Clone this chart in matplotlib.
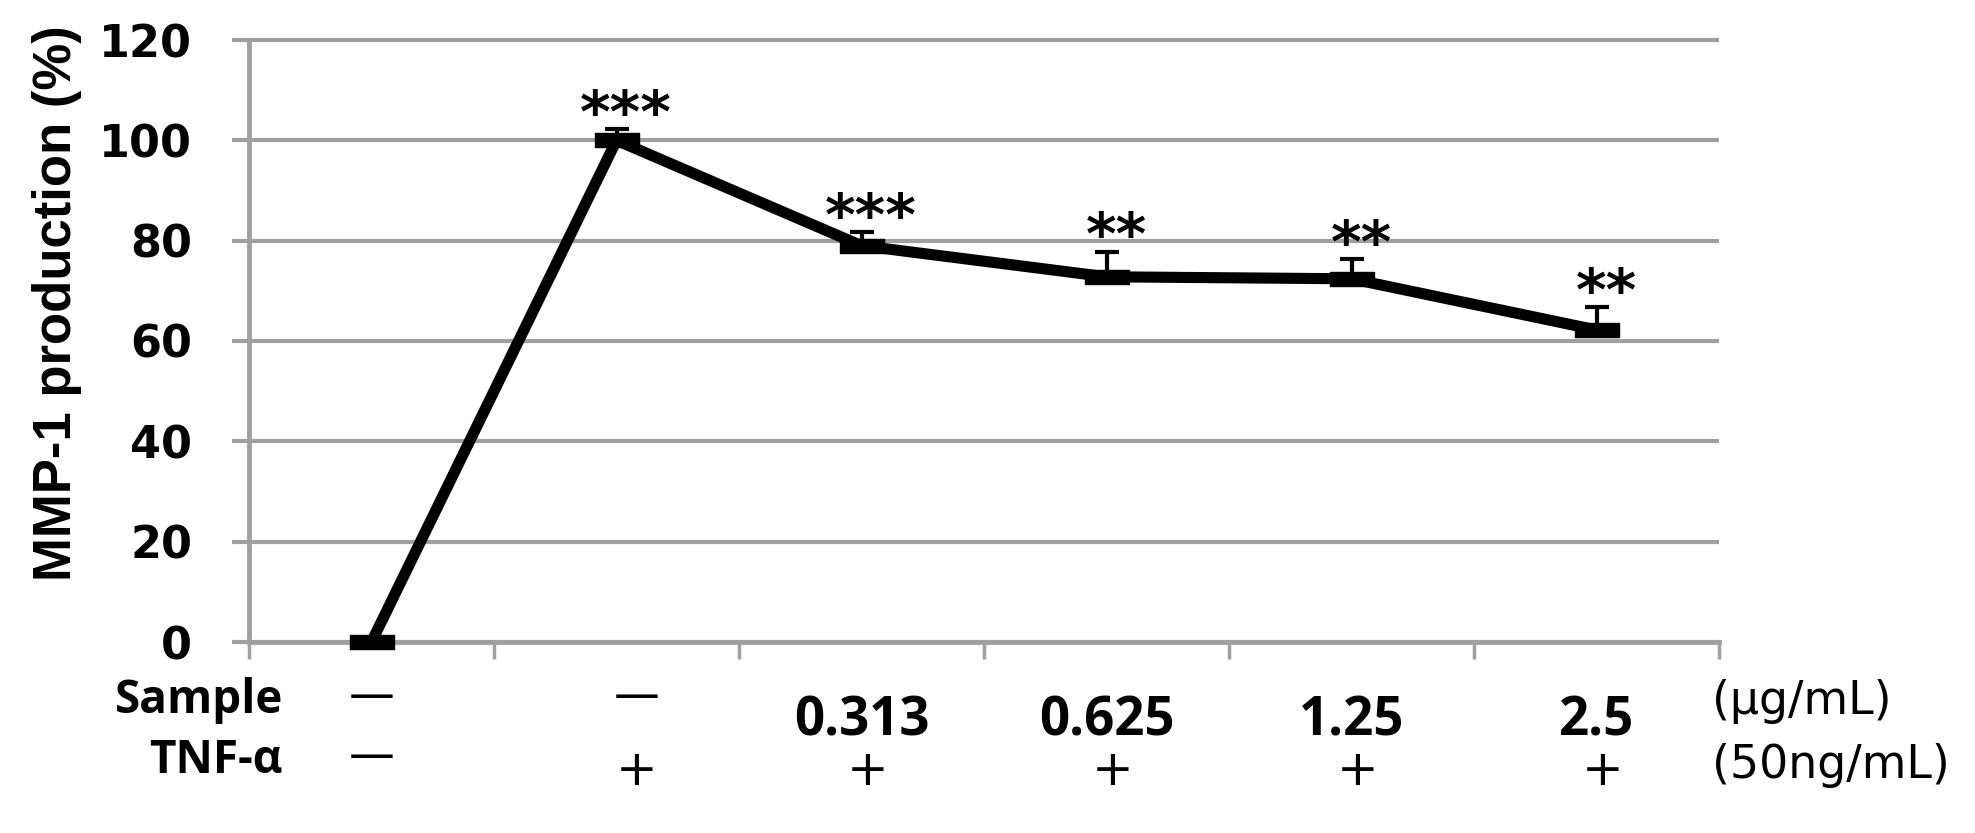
import numpy as np
import matplotlib
matplotlib.use("Agg")
import matplotlib.pyplot as plt
from matplotlib.path import Path
from matplotlib.transforms import blended_transform_factory

# ---------------- data ----------------
groups = ["Control", "TNF-α", "0.313", "0.625", "1.25", "2.5"]
sample_labels = ["—", "—", "0.313", "0.625", "1.25", "2.5"]
tnf_labels = ["—", "+", "+", "+", "+", "+"]
values = [0.0, 100.0, 79.0, 72.8, 72.4, 62.2]
errors = [0.0, 2.3, 2.7, 5.0, 3.9, 4.6]
sig_marks = ["", "***", "***", "**", "**", "**"]
y_ticks = [0, 20, 40, 60, 80, 100, 120]
y_label = "MMP-1 production (%)"
row_titles = ["Sample", "TNF-α"]
unit_labels = ["(μg/mL)", "(50ng/mL)"]

# ---------------- figure ----------------
W, H = 1975, 833
DPI = 100
fig = plt.figure(figsize=(W / DPI, H / DPI), dpi=DPI)
fig.patch.set_facecolor("white")

def fx(px):
    return px / W

def fy(py):
    return 1 - py / H

ax_left, ax_right = 249, 1719
y0_px, y120_px = 642, 40
px_per_unit = (y0_px - y120_px) / 120.0
ytop = 121
ax = fig.add_axes([fx(ax_left), (H - y0_px) / H, (ax_right - ax_left) / W,
                   px_per_unit * ytop / H])

GRAY = "#a0a0a0"
x = np.arange(1, len(values) + 1)

# error bars (upper only)
ax.errorbar(x, values, yerr=[np.zeros(len(errors)), errors], fmt="none",
            ecolor="black", elinewidth=3.0, capsize=8.6, capthick=3.0,
            clip_on=False, zorder=3)

# rectangular (dash-like) markers
rect = Path([(-1, -0.32), (1, -0.32), (1, 0.32), (-1, 0.32), (-1, -0.32)],
            [Path.MOVETO, Path.LINETO, Path.LINETO, Path.LINETO, Path.CLOSEPOLY])
ax.plot(x, values, color="black", lw=8, marker=rect, ms=32,
        mfc="black", mec="black", clip_on=False, zorder=4)

# significance marks
for xi, v, e, s in zip(x, values, errors, sig_marks):
    if s:
        ax.annotate(s, xy=(xi, v + e), xytext=(7, -2), textcoords="offset points",
                    ha="center", va="baseline", fontsize=42, fontweight="bold",
                    family="DejaVu Sans", color="black", zorder=5)

# axes styling
ax.set_xlim(0.5, len(values) + 0.5)
ax.set_ylim(0, ytop)
ax.set_yticks(y_ticks)
ax.set_yticklabels([str(t) for t in y_ticks], fontsize=32, fontweight="bold",
                   family="DejaVu Sans")
ax.set_xticks(np.arange(0.5, len(values) + 1, 1.0))
ax.set_xticklabels([])
ax.yaxis.grid(True, color=GRAY, lw=3)
ax.set_axisbelow(True)
for sp in ["top", "right"]:
    ax.spines[sp].set_visible(False)
ax.spines["left"].set_color(GRAY)
ax.spines["left"].set_linewidth(3.5)
ax.spines["left"].set_bounds(0, 120)
ax.spines["bottom"].set_color(GRAY)
ax.spines["bottom"].set_linewidth(3.5)
ax.tick_params(axis="y", direction="out", length=12, width=3, color=GRAY, pad=29)
ax.tick_params(axis="x", direction="out", length=12, width=2.5, color=GRAY)

# bottom category table (small per-column x shifts in pixels, as in the reference)
col_dx = [0, 20, 0, 0, 0, 0]
plus_dx = 6
tr = blended_transform_factory(ax.transData, fig.transFigure)
px_per_x = (ax_right - ax_left) / len(values)
for xi, s, d in zip(x, sample_labels, col_dx):
    xx = xi + d / px_per_x
    if s == "—":
        ax.text(xx, fy(697), s, transform=tr, ha="center", va="center",
                fontsize=33, family="DejaVu Sans", color="black")
    else:
        ax.text(xx, fy(735), s, transform=tr, ha="center", va="baseline",
                fontsize=38, fontweight="bold", family="Open Sans", color="black")
for xi, s, d in zip(x, tnf_labels, col_dx):
    if s == "—":
        ax.text(xi + d / px_per_x, fy(757), s, transform=tr, ha="center",
                va="center", fontsize=33, family="DejaVu Sans", color="black")
    else:
        xx = xi + (d if d else plus_dx) / px_per_x
        ax.text(xx, fy(771), s, transform=tr, ha="center", va="center",
                fontsize=36, family="DejaVu Sans", color="black")

fig.text(fx(283), fy(713), row_titles[0], ha="right", va="baseline",
         fontsize=33, fontweight="bold", family="Open Sans")
fig.text(fx(283), fy(773), row_titles[1], ha="right", va="baseline",
         fontsize=33, fontweight="bold", family="Open Sans")
fig.text(fx(1712), fy(702), unit_labels[0], ha="left", va="center",
         fontsize=33, family="DejaVu Sans")
fig.text(fx(1712), fy(765), unit_labels[1], ha="left", va="center",
         fontsize=33, family="DejaVu Sans")

# y axis title
fig.text(fx(57), fy(303), y_label, rotation=90, ha="center", va="center",
         fontsize=38, fontweight="bold", family="Liberation Sans")

fig.savefig("out.png", dpi=DPI, facecolor="white")
